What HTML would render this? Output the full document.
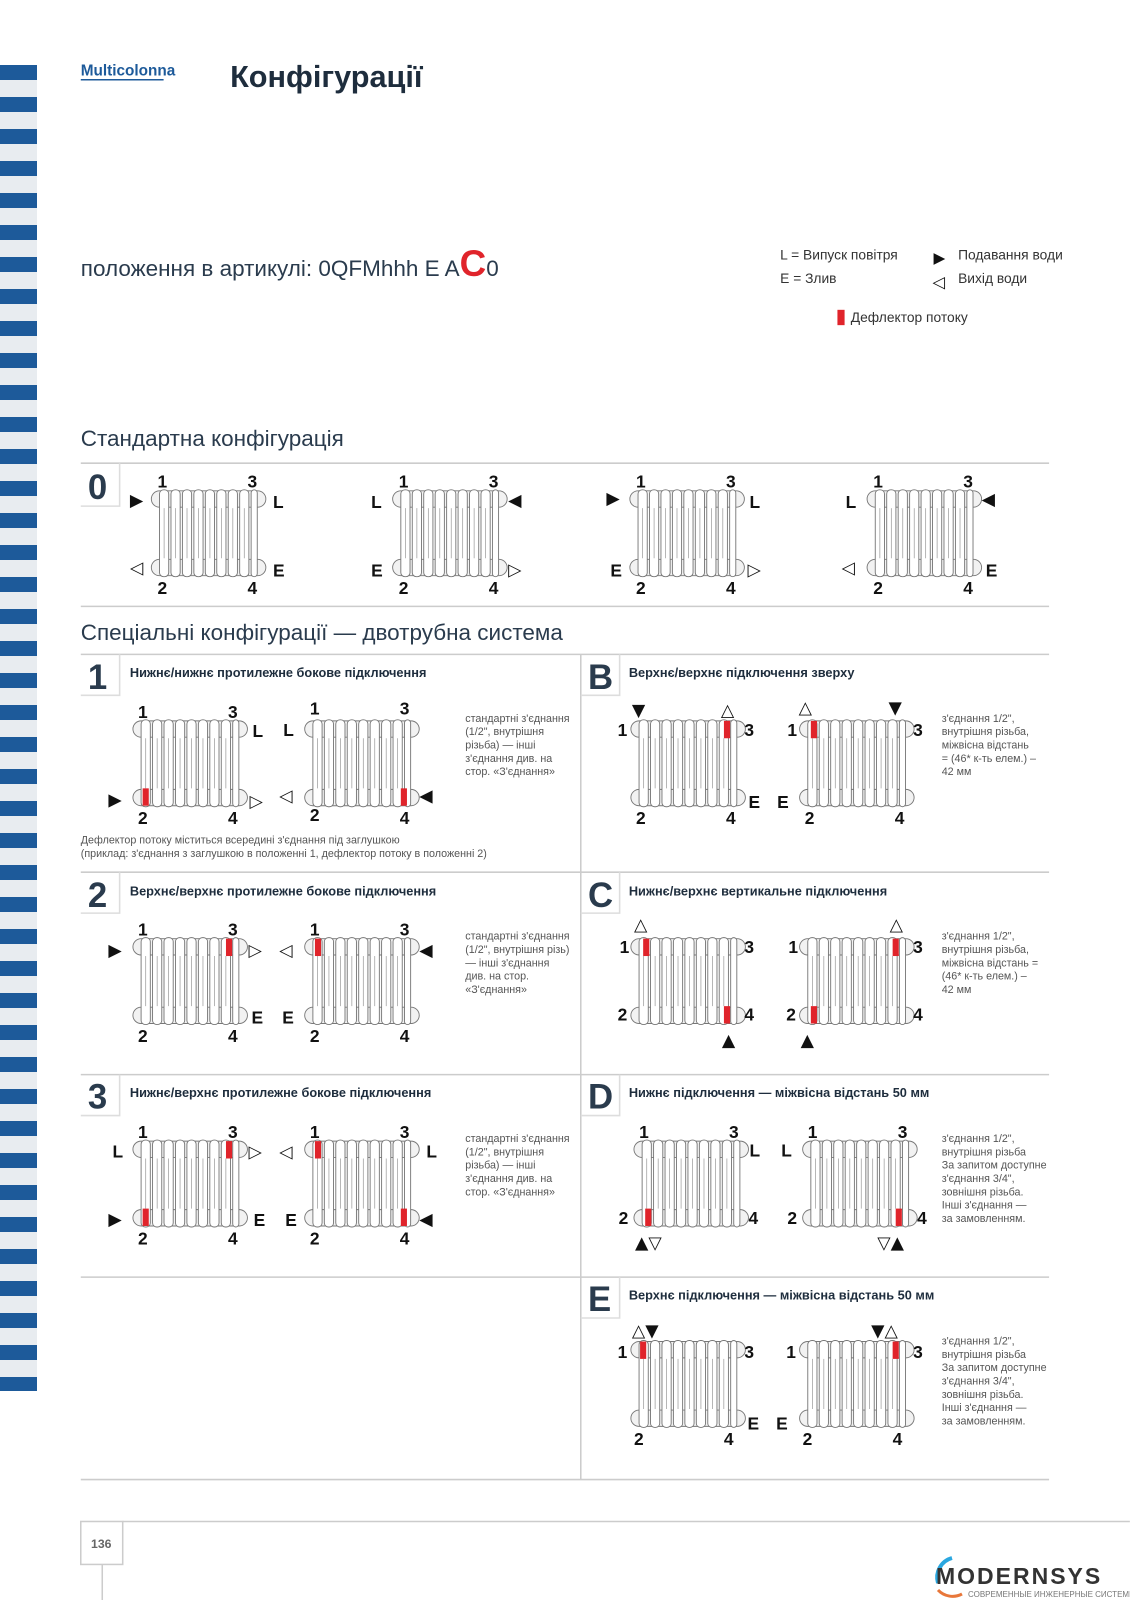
<!DOCTYPE html>
<html><head><meta charset="utf-8"><style>
html,body{margin:0;padding:0;background:#fff;width:1130px;height:1600px;overflow:hidden}
svg{display:block}
.n{font-family:"Liberation Sans",sans-serif;font-weight:bold;font-size:17px;fill:#111}
.t{font-family:"DejaVu Sans",sans-serif;font-size:17px;fill:#111}
.h{font-family:"Liberation Sans Narrow","Liberation Sans",sans-serif;font-weight:bold;font-size:12.5px;fill:#1e2d3d}
.big{font-family:"Liberation Sans Narrow","Liberation Sans",sans-serif;font-weight:bold;font-size:34px;fill:#2a3b4d}
.note{font-family:"Liberation Sans Narrow","Liberation Sans",sans-serif;font-size:10.5px;fill:#555}
.sec{font-family:"Liberation Sans",sans-serif;font-size:22px;fill:#2a3b4d}
</style></head><body>
<svg width="1130" height="1600" viewBox="0 0 1130 1600" xmlns="http://www.w3.org/2000/svg">
<defs>
<pattern id="st" x="0" y="65" width="37" height="32" patternUnits="userSpaceOnUse">
<rect width="37" height="15" fill="#1d5a9a"/><rect y="15" width="37" height="17" fill="#e8ecf0"/>
</pattern>
<g id="rad">
<rect x="0" y="1" width="112" height="16" rx="8" fill="#f2f2f2" stroke="#777" stroke-width="0.9"/>
<rect x="0" y="68" width="112" height="16" rx="8" fill="#f2f2f2" stroke="#777" stroke-width="0.9"/>
<g fill="#fff" stroke="#777" stroke-width="0.9">
<rect x="8" y="0" width="9" height="85" rx="4"/><rect x="19.2" y="0" width="9" height="85" rx="4"/>
<rect x="30.4" y="0" width="9" height="85" rx="4"/><rect x="41.6" y="0" width="9" height="85" rx="4"/>
<rect x="52.8" y="0" width="9" height="85" rx="4"/><rect x="64" y="0" width="9" height="85" rx="4"/>
<rect x="75.2" y="0" width="9" height="85" rx="4"/><rect x="86.4" y="0" width="9" height="85" rx="4"/>
<rect x="97.6" y="0" width="6" height="85" rx="3"/>
</g>
<g stroke="#999" stroke-width="0.7">
<line x1="12.5" y1="18" x2="12.5" y2="67"/><line x1="23.7" y1="18" x2="23.7" y2="67"/><line x1="34.9" y1="18" x2="34.9" y2="67"/>
<line x1="46.1" y1="18" x2="46.1" y2="67"/><line x1="57.3" y1="18" x2="57.3" y2="67"/><line x1="68.5" y1="18" x2="68.5" y2="67"/>
<line x1="79.7" y1="18" x2="79.7" y2="67"/><line x1="90.9" y1="18" x2="90.9" y2="67"/>
</g>
</g>
</defs>
<rect x="0" y="65" width="37" height="1326" fill="url(#st)"/>
<g transform="scale(1.0225)">
<text x="79" y="74" style="font-family:'Liberation Sans Narrow','Liberation Sans',sans-serif;font-weight:bold;font-size:15px;fill:#1d5a9a">Multicolonna</text>
<line x1="79" y1="78" x2="160" y2="78" stroke="#1d5a9a" stroke-width="1.5"/>
<text x="225" y="85" style="font-family:'Liberation Sans Narrow','Liberation Sans',sans-serif;font-weight:bold;font-size:30px;fill:#1e2d3d">Конфігурації</text>

<text x="79" y="270" style="font-family:'Liberation Sans',sans-serif;font-size:22px;fill:#2a3b4d">положення в артикулі: 0QFMhhh E A<tspan style="font-weight:bold;font-size:36px;fill:#e0242b">C</tspan>0</text>

<g style="font-family:'Liberation Sans',sans-serif;font-size:13.5px;fill:#333">
<text x="763" y="254">L = Випуск повітря</text><text x="763" y="277">E = Злив</text>
<text x="937" y="254">Подавання води</text><text x="937" y="277">Вихід води</text>
<text x="832" y="315">Дефлектор потоку</text></g>
<text class="t" x="913" y="257" style="font-size:15px">▶</text>
<text class="t" x="912" y="281" style="font-size:16px">◁</text>
<rect x="819" y="303" width="7" height="15" fill="#e0242b"/>

<text class="sec" x="79" y="436">Стандартна конфігурація</text>
<text class="sec" x="79" y="626">Спеціальні конфігурації — двотрубна система</text>

<g stroke="#ccc" stroke-width="1.5">
<line x1="79" y1="453" x2="1026" y2="453"/><line x1="79" y1="593" x2="1026" y2="593"/>
<line x1="79" y1="640" x2="1026" y2="640"/><line x1="79" y1="853" x2="1026" y2="853"/>
<line x1="79" y1="1051" x2="1026" y2="1051"/><line x1="79" y1="1249" x2="1026" y2="1249"/>
<line x1="79" y1="1447" x2="1026" y2="1447"/><line x1="120" y1="1488" x2="1105" y2="1488"/>
<line x1="568" y1="640" x2="568" y2="1447"/>
<rect x="79" y="1488" width="41" height="42" fill="#fff"/>
<line x1="100" y1="1530" x2="100" y2="1570"/>
</g>
<text x="89" y="1514" style="font-family:'Liberation Sans',sans-serif;font-weight:bold;font-size:12px;fill:#666">136</text>

<g fill="none" stroke="#ddd" stroke-width="1.5">
<path d="M117 453 V495 H79"/><path d="M117 640 V680 H79"/><path d="M117 853 V893 H79"/><path d="M117 1051 V1091 H79"/>
<path d="M606 640 V680 H568"/><path d="M606 853 V893 H568"/><path d="M606 1051 V1091 H568"/><path d="M606 1249 V1289 H568"/>
</g>
<text class="big" x="86" y="488">0</text>
<text class="big" x="86" y="674">1</text><text class="h" x="127" y="662">Нижнє/нижнє протилежне бокове підключення</text>
<text class="big" x="86" y="887">2</text><text class="h" x="127" y="876">Верхнє/верхнє протилежне бокове підключення</text>
<text class="big" x="86" y="1084">3</text><text class="h" x="127" y="1073">Нижнє/верхнє протилежне бокове підключення</text>
<text class="big" x="575" y="674">B</text><text class="h" x="615" y="662">Верхнє/верхнє підключення зверху</text>
<text class="big" x="575" y="887">C</text><text class="h" x="615" y="876">Нижнє/верхнє вертикальне підключення</text>
<text class="big" x="575" y="1084">D</text><text class="h" x="615" y="1073">Нижнє підключення — міжвісна відстань 50 мм</text>
<text class="big" x="575" y="1282">E</text><text class="h" x="615" y="1271">Верхнє підключення — міжвісна відстань 50 мм</text>

<use href="#rad" x="148" y="479"/><use href="#rad" x="384" y="479"/><use href="#rad" x="616" y="479"/><use href="#rad" x="848" y="479"/>
<g class="n">
<text x="154" y="477">1</text><text x="242" y="477">3</text><text x="154" y="581">2</text><text x="242" y="581">4</text>
<text x="390" y="477">1</text><text x="478" y="477">3</text><text x="390" y="581">2</text><text x="478" y="581">4</text>
<text x="622" y="477">1</text><text x="710" y="477">3</text><text x="622" y="581">2</text><text x="710" y="581">4</text>
<text x="854" y="477">1</text><text x="942" y="477">3</text><text x="854" y="581">2</text><text x="942" y="581">4</text>
<text x="267" y="497">L</text><text x="267" y="564">E</text>
<text x="363" y="497">L</text><text x="363" y="564">E</text>
<text x="733" y="497">L</text><text x="597" y="564">E</text>
<text x="827" y="497">L</text><text x="964" y="564">E</text>
</g>
<g class="t">
<text x="127" y="495">▶</text><text x="127" y="561">◁</text>
<text x="497" y="495">◀</text><text x="497" y="563">▷</text>
<text x="593" y="493">▶</text><text x="731" y="563">▷</text>
<text x="960" y="494">◀</text><text x="823" y="561">◁</text>
</g>

<use href="#rad" x="130" y="704"/><use href="#rad" x="298" y="704"/>
<rect x="139.5" y="771" width="6" height="17" fill="#e0242b"/><rect x="392" y="771" width="6" height="17" fill="#e0242b"/>
<g class="n">
<text x="135" y="702">1</text><text x="223" y="702">3</text><text x="135" y="806">2</text><text x="223" y="806">4</text>
<text x="303" y="699">1</text><text x="391" y="699">3</text><text x="303" y="803">2</text><text x="391" y="806">4</text>
<text x="247" y="721">L</text><text x="277" y="720">L</text></g>
<g class="t"><text x="106" y="788">▶</text><text x="244" y="789">▷</text><text x="273" y="784">◁</text><text x="410" y="784">◀</text></g>
<g class="note"><text x="455" y="706">стандартні з'єднання</text><text x="455" y="719">(1/2", внутрішня</text><text x="455" y="732">різьба) — інші</text><text x="455" y="745">з'єднання див. на</text><text x="455" y="758">стор. «З'єднання»</text>
<text x="79" y="825">Дефлектор потоку міститься всередині з'єднання під заглушкою</text>
<text x="79" y="838">(приклад: з'єднання з заглушкою в положенні 1, дефлектор потоку в положенні 2)</text></g>

<use href="#rad" x="617" y="704"/><use href="#rad" x="782" y="704"/>
<rect x="708" y="705" width="6" height="17" fill="#e0242b"/><rect x="793" y="705" width="6" height="17" fill="#e0242b"/>
<g class="n">
<text x="604" y="720">1</text><text x="728" y="720">3</text><text x="622" y="806">2</text><text x="710" y="806">4</text><text x="732" y="790">E</text>
<text x="770" y="720">1</text><text x="893" y="720">3</text><text x="787" y="806">2</text><text x="875" y="806">4</text><text x="760" y="790">E</text></g>
<g class="t"><text x="618" y="700">▼</text><text x="705" y="700">△</text><text x="781" y="698">△</text><text x="869" y="698">▼</text></g>
<g class="note"><text x="921" y="706">з'єднання 1/2",</text><text x="921" y="719">внутрішня різьба,</text><text x="921" y="732">міжвісна відстань</text><text x="921" y="745">= (46* к-ть елем.) –</text><text x="921" y="758">42 мм</text></g>

<use href="#rad" x="130" y="917"/><use href="#rad" x="298" y="917"/>
<rect x="221" y="918" width="6" height="17" fill="#e0242b"/><rect x="308" y="918" width="6" height="17" fill="#e0242b"/>
<g class="n">
<text x="135" y="915">1</text><text x="223" y="915">3</text><text x="135" y="1019">2</text><text x="223" y="1019">4</text>
<text x="303" y="915">1</text><text x="391" y="915">3</text><text x="303" y="1019">2</text><text x="391" y="1019">4</text>
<text x="246" y="1001">E</text><text x="276" y="1001">E</text></g>
<g class="t"><text x="106" y="935">▶</text><text x="243" y="935">▷</text><text x="273" y="935">◁</text><text x="410" y="935">◀</text></g>
<g class="note"><text x="455" y="919">стандартні з'єднання</text><text x="455" y="932">(1/2", внутрішня різь)</text><text x="455" y="945">— інші з'єднання</text><text x="455" y="958">див. на стор.</text><text x="455" y="971">«З'єднання»</text></g>

<use href="#rad" x="617" y="917"/><use href="#rad" x="782" y="917"/>
<rect x="629" y="918" width="6" height="17" fill="#e0242b"/><rect x="708" y="984" width="6" height="17" fill="#e0242b"/>
<rect x="873" y="918" width="6" height="17" fill="#e0242b"/><rect x="793" y="984" width="6" height="17" fill="#e0242b"/>
<g class="n">
<text x="606" y="932">1</text><text x="728" y="932">3</text><text x="604" y="998">2</text><text x="728" y="998">4</text>
<text x="771" y="932">1</text><text x="893" y="932">3</text><text x="769" y="998">2</text><text x="893" y="998">4</text></g>
<g class="t"><text x="620" y="910">△</text><text x="706" y="1023">▲</text><text x="870" y="910">△</text><text x="783" y="1023">▲</text></g>
<g class="note"><text x="921" y="919">з'єднання 1/2",</text><text x="921" y="932">внутрішня різьба,</text><text x="921" y="945">міжвісна відстань =</text><text x="921" y="958">(46* к-ть елем.) –</text><text x="921" y="971">42 мм</text></g>

<use href="#rad" x="130" y="1115"/><use href="#rad" x="298" y="1115"/>
<rect x="221" y="1116" width="6" height="17" fill="#e0242b"/><rect x="139.5" y="1182" width="6" height="17" fill="#e0242b"/>
<rect x="308" y="1116" width="6" height="17" fill="#e0242b"/><rect x="392" y="1182" width="6" height="17" fill="#e0242b"/>
<g class="n">
<text x="135" y="1113">1</text><text x="223" y="1113">3</text><text x="135" y="1217">2</text><text x="223" y="1217">4</text>
<text x="303" y="1113">1</text><text x="391" y="1113">3</text><text x="303" y="1217">2</text><text x="391" y="1217">4</text>
<text x="110" y="1132">L</text><text x="248" y="1199">E</text><text x="417" y="1132">L</text><text x="279" y="1199">E</text></g>
<g class="t"><text x="243" y="1132">▷</text><text x="106" y="1198">▶</text><text x="273" y="1132">◁</text><text x="410" y="1198">◀</text></g>
<g class="note"><text x="455" y="1117">стандартні з'єднання</text><text x="455" y="1130">(1/2", внутрішня</text><text x="455" y="1143">різьба) — інші</text><text x="455" y="1156">з'єднання див. на</text><text x="455" y="1169">стор. «З'єднання»</text></g>

<use href="#rad" x="620" y="1115"/><use href="#rad" x="785" y="1115"/>
<rect x="631" y="1182" width="6" height="17" fill="#e0242b"/><rect x="876" y="1182" width="6" height="17" fill="#e0242b"/>
<g class="n">
<text x="625" y="1113">1</text><text x="713" y="1113">3</text><text x="605" y="1197">2</text><text x="732" y="1197">4</text><text x="733" y="1131">L</text>
<text x="790" y="1113">1</text><text x="878" y="1113">3</text><text x="770" y="1197">2</text><text x="897" y="1197">4</text><text x="764" y="1131">L</text></g>
<g class="t"><text x="621" y="1221">▲▽</text><text x="858" y="1221">▽▲</text></g>
<g class="note"><text x="921" y="1117">з'єднання 1/2",</text><text x="921" y="1130">внутрішня різьба</text><text x="921" y="1143">За запитом доступне</text><text x="921" y="1156">з'єднання 3/4",</text><text x="921" y="1169">зовнішня різьба.</text><text x="921" y="1182">Інші з'єднання —</text><text x="921" y="1195">за замовленням.</text></g>

<use href="#rad" x="617" y="1311"/><use href="#rad" x="782" y="1311"/>
<rect x="626" y="1312" width="6" height="17" fill="#e0242b"/><rect x="873" y="1312" width="6" height="17" fill="#e0242b"/>
<g class="n">
<text x="604" y="1328">1</text><text x="728" y="1328">3</text><text x="620" y="1413">2</text><text x="708" y="1413">4</text><text x="731" y="1398">E</text>
<text x="769" y="1328">1</text><text x="893" y="1328">3</text><text x="785" y="1413">2</text><text x="873" y="1413">4</text><text x="759" y="1398">E</text></g>
<g class="t"><text x="618" y="1307">△▼</text><text x="852" y="1307">▼△</text></g>
<g class="note"><text x="921" y="1315">з'єднання 1/2",</text><text x="921" y="1328">внутрішня різьба</text><text x="921" y="1341">За запитом доступне</text><text x="921" y="1354">з'єднання 3/4",</text><text x="921" y="1367">зовнішня різьба.</text><text x="921" y="1380">Інші з'єднання —</text><text x="921" y="1393">за замовленням.</text></g>
</g>

<path d="M938 1583 A20 20 0 0 1 952 1558" fill="none" stroke="#2aa7e0" stroke-width="4"/>
<path d="M938 1590 A20 20 0 0 0 962 1594" fill="none" stroke="#e8773a" stroke-width="3"/>
<text x="936" y="1584" style="font-family:'Liberation Sans',sans-serif;font-weight:bold;font-size:23px;fill:#333;letter-spacing:2px">MODERNSYS</text>
<text x="968" y="1597" style="font-family:'Liberation Sans',sans-serif;font-size:8px;fill:#777">СОВРЕМЕННЫЕ ИНЖЕНЕРНЫЕ СИСТЕМЫ</text>
</svg>
</body></html>
